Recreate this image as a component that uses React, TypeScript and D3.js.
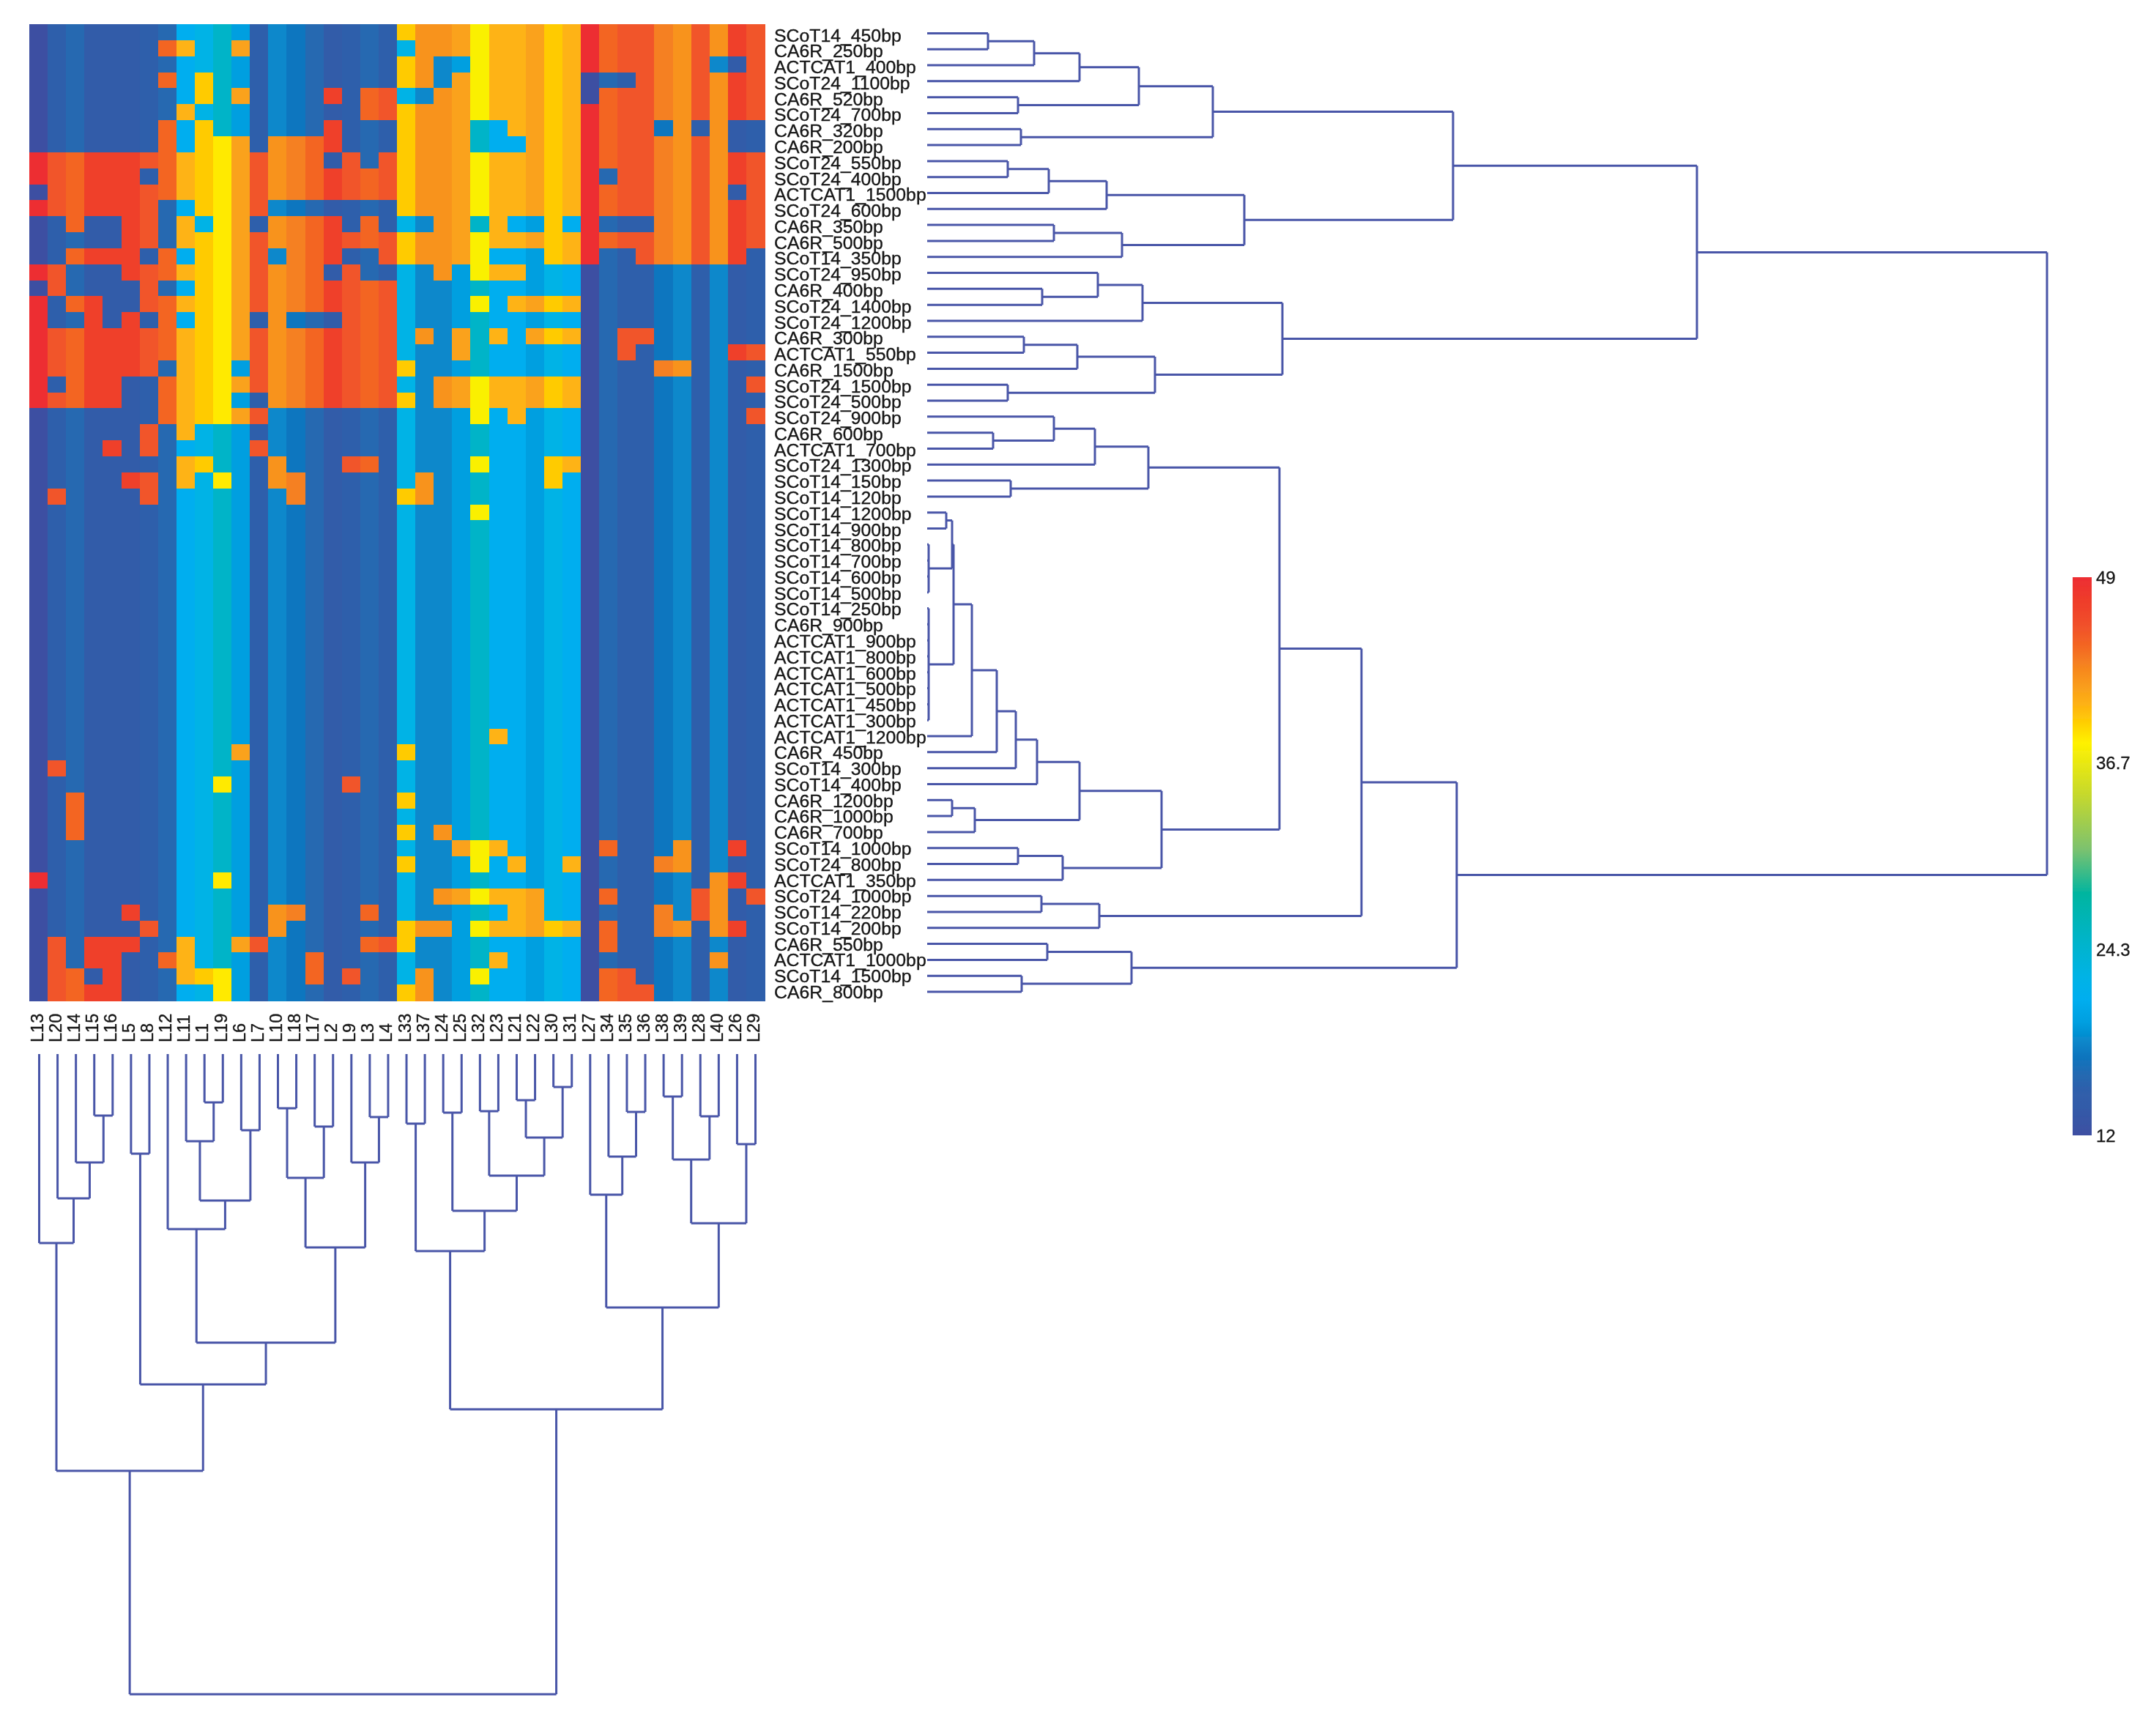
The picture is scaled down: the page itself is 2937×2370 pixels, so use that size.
import * as d3 from 'd3'

const rowNames = [
  'SCoT14_450bp', 'CA6R_250bp', 'ACTCAT1_400bp', 'SCoT24_1100bp', 'CA6R_520bp', 'SCoT24_700bp', 'CA6R_320bp', 'CA6R_200bp',
  'SCoT24_550bp', 'SCoT24_400bp', 'ACTCAT1_1500bp', 'SCoT24_600bp', 'CA6R_350bp', 'CA6R_500bp', 'SCoT14_350bp', 'SCoT24_950bp',
  'CA6R_400bp', 'SCoT24_1400bp', 'SCoT24_1200bp', 'CA6R_300bp', 'ACTCAT1_550bp', 'CA6R_1500bp', 'SCoT24_1500bp', 'SCoT24_500bp',
  'SCoT24_900bp', 'CA6R_600bp', 'ACTCAT1_700bp', 'SCoT24_1300bp', 'SCoT14_150bp', 'SCoT14_120bp', 'SCoT14_1200bp', 'SCoT14_900bp',
  'SCoT14_800bp', 'SCoT14_700bp', 'SCoT14_600bp', 'SCoT14_500bp', 'SCoT14_250bp', 'CA6R_900bp', 'ACTCAT1_900bp', 'ACTCAT1_800bp',
  'ACTCAT1_600bp', 'ACTCAT1_500bp', 'ACTCAT1_450bp', 'ACTCAT1_300bp', 'ACTCAT1_1200bp', 'CA6R_450bp', 'SCoT14_300bp', 'SCoT14_400bp',
  'CA6R_1200bp', 'CA6R_1000bp', 'CA6R_700bp', 'SCoT14_1000bp', 'SCoT24_800bp', 'ACTCAT1_350bp', 'SCoT24_1000bp', 'SCoT14_220bp',
  'SCoT14_200bp', 'CA6R_550bp', 'ACTCAT1_1000bp', 'SCoT14_1500bp', 'CA6R_800bp',
]

const colNames = [
  'L13', 'L20', 'L14', 'L15', 'L16', 'L5', 'L8', 'L12', 'L11', 'L1', 'L19', 'L6', 'L7', 'L10', 'L18', 'L17', 'L2', 'L9', 'L3', 'L4',
  'L33', 'L37', 'L24', 'L25', 'L32', 'L23', 'L21', 'L22', 'L30', 'L31', 'L27', 'L34', 'L35', 'L36', 'L38', 'L39', 'L28', 'L40', 'L26', 'L29',
]

// each column only takes two levels, one for absent bands and one for present bands
const lowValues = [
  12, 15, 16, 14, 14, 14, 15, 16, 21, 22.5, 25, 19.5, 15, 18.3, 17.3, 16, 14, 15, 16, 15,
  22.5, 18.3, 18.3, 19.5, 25, 21, 21, 19.5, 22.5, 21, 12, 16, 15, 15, 17.3, 18.3, 15, 18.3, 14, 15,
]
const highValues = [
  49, 45.5, 44.5, 47, 47, 47, 45.5, 44.5, 40.5, 39.5, 38.3, 41.5, 45.5, 42.3, 43.3, 44.5, 47, 45.5, 44.5, 45.5,
  39.5, 42.3, 42.3, 41.5, 37.7, 40.5, 40.5, 41.5, 39.5, 40.5, 49, 44.5, 45.5, 45.5, 43.3, 42.3, 45.5, 42.3, 47, 45.5,
]

const bandRows = [
  '0000000000 0000000000 1111111111 1111111111',
  '0000000110 0100000000 0111111111 1111111111',
  '0000000000 0000000000 1100111111 1111111001',
  '0000000101 0000000000 1101111111 0001111111',
  '0000000001 0100001011 0011111111 0111111111',
  '0000000010 0000000011 1111111111 1111111111',
  '0000000101 0000001000 1111001111 1111010100',
  '0000000101 1101111000 1111000111 1111111100',
  '1111111111 1111110101 1111111111 1111111111',
  '1111110111 1111111111 1111111111 1011111111',
  '0111111111 1111111111 1111111111 1111111101',
  '1111111001 1110000000 1111111111 1111111111',
  '0010011010 1101111010 0011010010 1000111111',
  '0000011011 1111111111 1111111111 1111111111',
  '0011110101 1110111001 1111100011 1001111110',
  '1100011111 1111110100 0010111000 0000000000',
  '0100001001 1111111111 0000000000 0000000000',
  '1011001111 1111111111 0000101111 0000000000',
  '1001010101 1101000111 0000000000 0000000000',
  '1111111111 1111111111 0101010111 0011000000',
  '1111111111 1111111111 0001000000 0010000011',
  '1111111011 1011111111 1000000000 0000110000',
  '1011100111 1111111111 0011111111 0000000001',
  '1111100111 1001111111 1011111111 0000000000',
  '0000000111 1110000000 0000101000 0000000001',
  '0000001010 0000000000 0000000000 0000000000',
  '0000101000 0010000000 0000000000 0000000000',
  '0000000011 0001000110 0000100011 0000000000',
  '0000011010 1001100000 0100000010 0000000000',
  '0100001000 0000100000 1100000000 0000000000',
  '0000000000 0000000000 0000100000 0000000000',
  '0000000000 0000000000 0000000000 0000000000',
  '0000000000 0000000000 0000000000 0000000000',
  '0000000000 0000000000 0000000000 0000000000',
  '0000000000 0000000000 0000000000 0000000000',
  '0000000000 0000000000 0000000000 0000000000',
  '0000000000 0000000000 0000000000 0000000000',
  '0000000000 0000000000 0000000000 0000000000',
  '0000000000 0000000000 0000000000 0000000000',
  '0000000000 0000000000 0000000000 0000000000',
  '0000000000 0000000000 0000000000 0000000000',
  '0000000000 0000000000 0000000000 0000000000',
  '0000000000 0000000000 0000000000 0000000000',
  '0000000000 0000000000 0000000000 0000000000',
  '0000000000 0000000000 0000010000 0000000000',
  '0000000000 0100000000 1000000000 0000000000',
  '0100000000 0000000000 0000000000 0000000000',
  '0000000000 1000000100 0000000000 0000000000',
  '0010000000 0000000000 1000000000 0000000000',
  '0010000000 0000000000 0000000000 0000000000',
  '0010000000 0000000000 1010000000 0000000000',
  '0000000000 0000000000 0001110000 0100010010',
  '0000000000 0000000000 1000101001 0000110000',
  '1000000000 1000000000 0000000000 0000000110',
  '0000000000 0000000000 0011111100 0100001101',
  '0000010000 0001100010 0000001100 0000101100',
  '0000001000 0001000000 1110111111 0100110110',
  '0101110010 0110000011 1000000000 0100000000',
  '0101100110 0000010000 0000010000 0000000100',
  '0110100011 1000010100 0100100000 0110000000',
  '0111100000 1000000000 1100000000 0111000000',
]

const colorValues = [12, 14, 15, 16, 17.3, 18.3, 19.5, 21, 22.5, 25, 28, 31, 34.5, 38, 39.5, 40.5, 41.5, 42.3, 43.3, 44.5, 45.5, 47, 49]
const colorStops = [
  '#3d4fa2', '#325ca9', '#2f5fab', '#2569b1', '#0b76bf', '#0888cb', '#009fe0', '#00aeef', '#00b3e6', '#00b4c8', '#00b5a0',
  '#7dc26e', '#c4d82e', '#fff200', '#ffcb05', '#feb312', '#faa21b', '#f8931d', '#f58020', '#f36523', '#f15529', '#ef4129', '#ed2d32',
]
const legendTicks = [49, 36.7, 24.3, 12]

type Node = { h: number; kids: (Node | number)[] }
const m = (h: number, ...kids: (Node | number)[]): Node => ({ h, kids })

// merge distances, kids are row or column indexes
const rowTop = m(718,
  m(390,
    m(289, m(208, m(146, m(83, 0, 1), 2), 3), m(124, 4, 5)),
    m(128, 6, 7)),
  m(433,
    m(245, m(166, m(110, 8, 9), 10), 11),
    m(266, m(173, 12, 13), 14)))
const rowMid = m(485,
  m(294, m(233, 15, m(157, 16, 17)), 18),
  m(311, m(205, m(132, 19, 20), 21), m(110, 22, 23)))
const rowFlat = m(36,
  m(34, m(26, 30, 31), m(2, 32, 33, 34, 35)),
  m(2, 36, 37, 38, 39, 40, 41, 42, 43))
const rowLow = m(723,
  m(593,
    m(481,
      m(302, m(229, m(173, 24, m(90, 25, 26)), 27), m(114, 28, 29)),
      m(320,
        m(208,
          m(150, m(121, m(95, m(61, rowFlat, 44), 45), 46), 47),
          m(65, m(34, 48, 49), 50)),
        m(185, m(124, 51, 52), 53))),
    m(235, m(156, 54, 55), 56)),
  m(279, m(164, 57, 58), m(129, 59, 60)))
const rowTree = m(1529, m(1051, rowTop, rowMid), rowLow)

const colLeft = m(569,
  m(258, 0, m(197, 1, m(148, 2, m(84, 3, 4)))),
  m(451,
    m(136, 5, 6),
    m(394,
      m(239, 7, m(200, m(119, 8, m(66, 9, 10)), m(104, 11, 12))),
      m(264,
        m(169, m(74, 13, 14), m(99, 15, 16)),
        m(148, 17, m(86, 18, 19))))))
const colRight = m(485,
  m(269,
    m(95, 20, 21),
    m(214, m(80, 22, 23), m(166, m(78, 24, 25), m(114, m(63, 26, 27), m(45, 28, 29))))),
  m(346,
    m(192, 30, m(140, 31, m(79, 32, 33))),
    m(231, m(144, m(58, 34, 35), m(85, 36, 37)), m(123, 38, 39))))
const colTree = m(874, colLeft, colRight)

const width = 2937
const height = 2370
const lineColor = '#4a56a8'
const font = '"Liberation Sans", Arial, sans-serif'

// walks a tree and returns one path: d is along the distance axis, p across the leaves
function treePath(tree: Node, leafPos: (i: number) => number, dist: (h: number) => number, vertical: boolean) {
  const root = d3.hierarchy<Node | number>(tree, d => (typeof d === 'number' ? null : d.kids))
  const path = d3.path()
  const move = (a: number, b: number) => (vertical ? path.moveTo(b, a) : path.moveTo(a, b))
  const line = (a: number, b: number) => (vertical ? path.lineTo(b, a) : path.lineTo(a, b))
  const pos = new Map<unknown, number>()
  root.eachAfter(n => {
    if (typeof n.data === 'number') {
      pos.set(n, leafPos(n.data))
      return
    }
    const kids = n.children!
    const ps = kids.map(k => pos.get(k)!)
    const p = (ps[0] + ps[ps.length - 1]) / 2
    pos.set(n, p)
    const at = dist(n.data.h)
    move(at, ps[0])
    line(at, ps[ps.length - 1])
    kids.forEach((k, i) => {
      const from = typeof k.data === 'number' ? dist(0) : dist(k.data.h)
      move(from, ps[i])
      line(at, ps[i])
    })
  })
  return path.toString()
}

export default function App() {
  const x = d3.scaleBand<string>().domain(colNames).range([40, 1044])
  const y = d3.scaleBand<string>().domain(rowNames).range([33, 1366])
  const color = d3.scaleLinear<string>().domain(colorValues).range(colorStops).interpolate(d3.interpolateRgb)

  const leafY = d3.scalePoint<number>().domain(d3.range(rowNames.length)).range([45.4, 1354])
  const leafX = d3.scalePoint<number>().domain(d3.range(colNames.length)).range([53.5, 1031.5])
  const labelY = d3.scalePoint<string>().domain(rowNames).range([56.6, 1363])
  const rowDist = d3.scaleLinear().domain([0, 1529]).range([1266, 2795])
  const colDist = d3.scaleLinear().domain([0, 874]).range([1439, 2313])
  const legend = d3.scaleLinear().domain([12, 49]).range([1550, 788])

  const cells = bandRows.flatMap((row, r) => {
    const bits = row.replace(/ /g, '')
    return colNames.map((name, c) => ({
      row: rowNames[r],
      col: name,
      value: bits[c] === '1' ? highValues[c] : lowValues[c],
    }))
  })

  return (
    <svg
      width={width}
      height={height}
      viewBox={`0 0 ${width} ${height}`}
      style={{ position: 'absolute', left: 0, top: 0, display: 'block', background: '#fff' }}
    >
      <defs>
        <linearGradient id="scaleGrad" x1="0" y1="1" x2="0" y2="0">
          {colorValues.map((v, i) => (
            <stop key={v} offset={(v - 12) / 37} stopColor={colorStops[i]} />
          ))}
        </linearGradient>
        <filter id="soft" x="0" y="0" width="100%" height="100%" filterUnits="userSpaceOnUse" primitiveUnits="userSpaceOnUse">
          <feGaussianBlur stdDeviation="0.55" />
        </filter>
      </defs>

      <g filter="url(#soft)">
        <g shapeRendering="crispEdges">
          {cells.map(d => (
            <rect
              key={d.row + d.col}
              x={x(d.col)}
              y={y(d.row)}
              width={x.bandwidth() + 0.5}
              height={y.bandwidth() + 0.5}
              fill={color(d.value)}
            />
          ))}
        </g>

        <g fontFamily={font} fontSize={24.8} fill="#141414" stroke="#141414" strokeWidth={0.35}>
          {rowNames.map(name => (
            <text key={name} x={1057} y={labelY(name)}>{name}</text>
          ))}
        </g>

        <g fontFamily={font} fontSize={23.5} fill="#141414" stroke="#141414" strokeWidth={0.35}>
          {colNames.map(name => (
            <text
              key={name}
              transform={`translate(${x(name)! + x.bandwidth() / 2 + 6},1423) rotate(-90)`}
            >
              {name}
            </text>
          ))}
        </g>

        <g fill="none" stroke={lineColor} strokeWidth={3}>
          <path d={treePath(rowTree, i => leafY(i)!, h => rowDist(h), false)} />
          <path d={treePath(colTree, i => leafX(i)!, h => colDist(h), true)} />
        </g>

        <rect x={2830} y={legend(49)} width={26} height={legend(12) - legend(49)} fill="url(#scaleGrad)" />
        <g fontFamily={font} fontSize={24} fill="#141414" stroke="#141414" strokeWidth={0.3}>
          {legendTicks.map(t => (
            <text key={t} x={2862} y={legend(t)} dy="0.36em">{t}</text>
          ))}
        </g>
      </g>
    </svg>
  )
}
